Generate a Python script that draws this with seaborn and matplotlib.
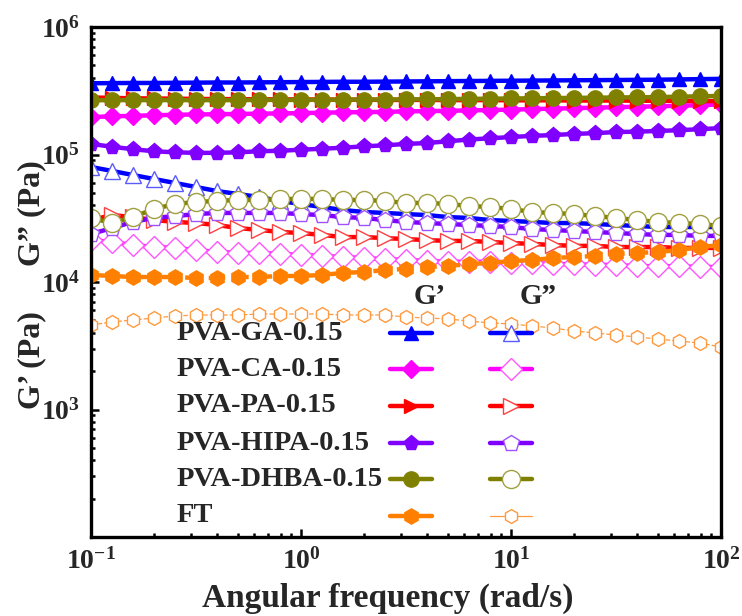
import matplotlib
matplotlib.use("Agg")
import matplotlib.pyplot as plt
import seaborn as sns
import numpy as np
from matplotlib.ticker import LogLocator, NullFormatter, LogFormatterSciNotation

# ---------------- data ----------------
freq = [0.1, 0.126, 0.158, 0.2, 0.251, 0.316, 0.398, 0.501, 0.631, 0.794,
        1.0, 1.26, 1.58, 2.0, 2.51, 3.16, 3.98, 5.01, 6.31, 7.94,
        10.0, 12.6, 15.8, 20.0, 25.1, 31.6, 39.8, 50.1, 63.1, 79.4, 100.0]

samples = ["PVA-GA-0.15", "PVA-CA-0.15", "PVA-PA-0.15",
           "PVA-HIPA-0.15", "PVA-DHBA-0.15", "FT"]

ga_gp = [362000, 363000, 364000, 364000, 365000, 366000, 367000, 367000, 368000, 369000,
         370000, 371000, 372000, 372000, 373000, 374000, 375000, 376000, 377000, 378000,
         379000, 380000, 381000, 382000, 383000, 384000, 385000, 386000, 388000, 390000, 392000]
ca_gp = [197000, 199000, 201000, 203000, 205000, 206000, 207000, 208000, 209000, 210000,
         211000, 213000, 214000, 215000, 216000, 218000, 219000, 220000, 222000, 223000,
         225000, 227000, 229000, 231000, 233000, 235000, 237000, 239000, 241000, 244000, 247000]
pa_gp = [280000, 278000, 276000, 275000, 274000, 273000, 272000, 272000, 271000, 271000,
         270000, 270000, 269000, 269000, 268000, 268000, 268000, 267000, 267000, 267000,
         266000, 266000, 266000, 265000, 265000, 265000, 264000, 264000, 263000, 263000, 262000]
hipa_gp = [121000, 115000, 110000, 106000, 104000, 103000, 103000, 104000, 106000, 107000,
           109000, 111000, 113000, 116000, 118000, 121000, 123000, 127000, 131000, 134000,
           137000, 140000, 142000, 145000, 147000, 150000, 151000, 153000, 155000, 158000, 161000]
dhba_gp = [266000, 267000, 267000, 267000, 267000, 267000, 267000, 267000, 268000, 268000,
           268000, 269000, 269000, 270000, 270000, 271000, 271000, 272000, 273000, 274000,
           275000, 276000, 277000, 278000, 279000, 280000, 281000, 282000, 284000, 286000, 288000]
ft_gp = [11360, 11150, 10940, 10940, 10940, 10750, 10750, 10940, 10940, 11150,
         11150, 11360, 11780, 11980, 12420, 12650, 13110, 13340, 13830, 14090,
         14610, 14880, 15420, 15710, 16000, 16600, 16900, 17200, 17800, 18800, 19500]

ga_gpp = [79800, 74300, 69100, 64200, 59800, 55600, 51700, 49000, 46400, 43200,
          40900, 38700, 36700, 35400, 34800, 34100, 33500, 32300, 31800, 30600,
          30100, 29600, 29000, 29000, 28500, 28000, 27500, 27000, 27000, 27000, 27000]
ca_gpp = [21300, 20600, 19500, 18800, 18500, 17800, 17200, 16900, 16900, 16600,
          16300, 16000, 15700, 15400, 15100, 14900, 14600, 14400, 14400, 14400,
          14100, 14100, 13800, 13800, 13600, 13600, 13300, 13300, 13300, 13100, 13100]
pa_gpp = [30600, 33500, 32300, 30600, 29600, 29000, 28000, 26500, 25600, 24700,
          24200, 23400, 22500, 22500, 22100, 21700, 21300, 21000, 21000, 20600,
          20200, 19900, 19500, 19200, 19200, 18800, 18800, 18800, 18500, 18500, 18500]
hipa_gpp = [23800, 26500, 29600, 31800, 32900, 34100, 34800, 34800, 34800, 34800,
            34100, 33500, 32300, 31800, 30600, 29600, 29000, 28500, 28000, 27500,
            27000, 26000, 25600, 25100, 24700, 24200, 23800, 23400, 23400, 23000, 23000]
dhba_gpp = [31800, 29000, 32300, 37400, 40900, 42400, 43200, 44000, 44000, 44800,
            44800, 44800, 44000, 44000, 43200, 41700, 41700, 40900, 39500, 38700,
            37400, 35400, 34800, 34100, 32900, 31800, 30600, 29600, 29000, 28500, 27500]
ft_gpp = [4600, 4860, 5030, 5220, 5410, 5510, 5510, 5510, 5610, 5610,
          5610, 5610, 5510, 5510, 5510, 5310, 5220, 5130, 4940, 4770,
          4690, 4520, 4360, 4130, 3980, 3840, 3700, 3570, 3440, 3320, 3090]

gp_data = [ga_gp, ca_gp, pa_gp, hipa_gp, dhba_gp, ft_gp]
gpp_data = [ga_gpp, ca_gpp, pa_gpp, hipa_gpp, dhba_gpp, ft_gpp]

# ---------------- styles ----------------
colors = ["#0000FF", "#FF00FF", "#FF0000", "#8000FF", "#808000", "#FF8000"]
edge_light = ["#5A5AFF", "#FF55FF", "#FF4040", "#A050FF", "#A0A040", "#FF9A40"]
markers = ["^", "D", ">", "p", "o", "h"]
gp_ms = [10, 9, 10, 11, 11, 11]
gpp_ms = [12, 11, 12, 12, 13, 10]

sns.set_style("ticks")
plt.rcParams["font.family"] = ["Liberation Serif", "DejaVu Serif"]
plt.rcParams["font.weight"] = "bold"
plt.rcParams["mathtext.fontset"] = "custom"
plt.rcParams["mathtext.rm"] = "Liberation Serif:bold"
plt.rcParams["mathtext.it"] = "Liberation Serif:bold"
plt.rcParams["mathtext.bf"] = "Liberation Serif:bold"

fig = plt.figure(figsize=(7.42, 6.16), dpi=100)
ax = fig.add_axes([91 / 742, 1 - 537 / 616, 630 / 742, 510 / 616])


def style_kw(i, prime2):
    if not prime2:
        kw = dict(color=colors[i], marker=markers[i], markersize=gp_ms[i],
                  markerfacecolor=colors[i], markeredgecolor=colors[i],
                  markeredgewidth=1.0, linewidth=3.2,
                  linestyle="--" if i == 5 else "-")
        if i == 5:
            kw["dashes"] = (1.5, 0.8)
    else:
        kw = dict(color=colors[i], marker=markers[i], markersize=gpp_ms[i],
                  markerfacecolor="white", markeredgecolor=edge_light[i],
                  markeredgewidth=1.0, linewidth=3.2, linestyle="-")
        if i == 5:
            kw.update(linewidth=0.9, linestyle="--", color=edge_light[i], dashes=(4, 3))
    return kw


# G'' first, then G'
for i in range(6):
    sns.lineplot(x=freq, y=gpp_data[i], ax=ax, estimator=None, errorbar=None,
                 sort=False, legend=False, **style_kw(i, True))
for i in range(6):
    sns.lineplot(x=freq, y=gp_data[i], ax=ax, estimator=None, errorbar=None,
                 sort=False, legend=False, **style_kw(i, False))

ax.set_xscale("log")
ax.set_yscale("log")
ax.set_xlim(0.1, 100)
ax.set_ylim(1e2, 1e6)
ax.set_xticks([0.1, 1, 10, 100])
ax.set_yticks([1e3, 1e4, 1e5, 1e6])
ax.xaxis.set_major_formatter(LogFormatterSciNotation())
ax.yaxis.set_major_formatter(LogFormatterSciNotation())
ax.xaxis.set_minor_locator(LogLocator(base=10, subs=np.arange(2, 10), numticks=20))
ax.yaxis.set_minor_locator(LogLocator(base=10, subs=np.arange(2, 10), numticks=20))
ax.xaxis.set_minor_formatter(NullFormatter())
ax.yaxis.set_minor_formatter(NullFormatter())
ax.tick_params(which="both", direction="in", top=False, right=False,
               labelsize=20, width=1.8, color="black")
ax.tick_params(which="major", length=6, pad=8)
ax.tick_params(which="minor", length=3)
for s in ax.spines.values():
    s.set_linewidth(2.4)
    s.set_color("black")
ax.set_xlabel("")
ax.set_ylabel("")

# axis labels
fig.text(388 / 742, 1 - 598 / 616, "Angular frequency (rad/s)", ha="center",
         va="center", fontsize=24, fontweight="bold")
fig.text(32 / 742, 1 - 213 / 616, "G\u201d (Pa)", ha="center", va="center",
         rotation=90, fontsize=23, fontweight="bold")
fig.text(32 / 742, 1 - 360 / 616, "G\u2019 (Pa)", ha="center", va="center",
         rotation=90, fontsize=23, fontweight="bold")

# manual two-column legend
ax.text(0.5127, 0.4706, "G\u2019", transform=ax.transAxes, ha="left", va="center",
        fontsize=21, fontweight="bold")
ax.text(0.681, 0.4706, "G\u201d", transform=ax.transAxes, ha="left", va="center",
        fontsize=21, fontweight="bold")
row_y = [0.400, 0.3294, 0.2569, 0.1843, 0.1137, 0.0412]
for i, name in enumerate(samples):
    y = row_y[i]
    ax.text(0.1365, y, name, transform=ax.transAxes, ha="left", va="center",
            fontsize=20.5, fontweight="bold")
    ax.plot([0.4746, 0.5413], [y, y], transform=ax.transAxes, clip_on=False,
            color=colors[i], linewidth=3.2, linestyle="-")
    ax.plot([0.508], [y], transform=ax.transAxes, clip_on=False, linestyle="none",
            marker=markers[i], markersize=gp_ms[i], markerfacecolor=colors[i],
            markeredgecolor=colors[i])
    ax.plot([0.6333, 0.7], [y, y], transform=ax.transAxes, clip_on=False,
            color=colors[i] if i < 5 else edge_light[i],
            linewidth=3.2 if i < 5 else 0.9, linestyle="-")
    ax.plot([0.6667], [y], transform=ax.transAxes, clip_on=False, linestyle="none",
            marker=markers[i], markersize=gpp_ms[i], markerfacecolor="white",
            markeredgecolor=edge_light[i], markeredgewidth=1.0)

fig.savefig("out.png", dpi=100)
